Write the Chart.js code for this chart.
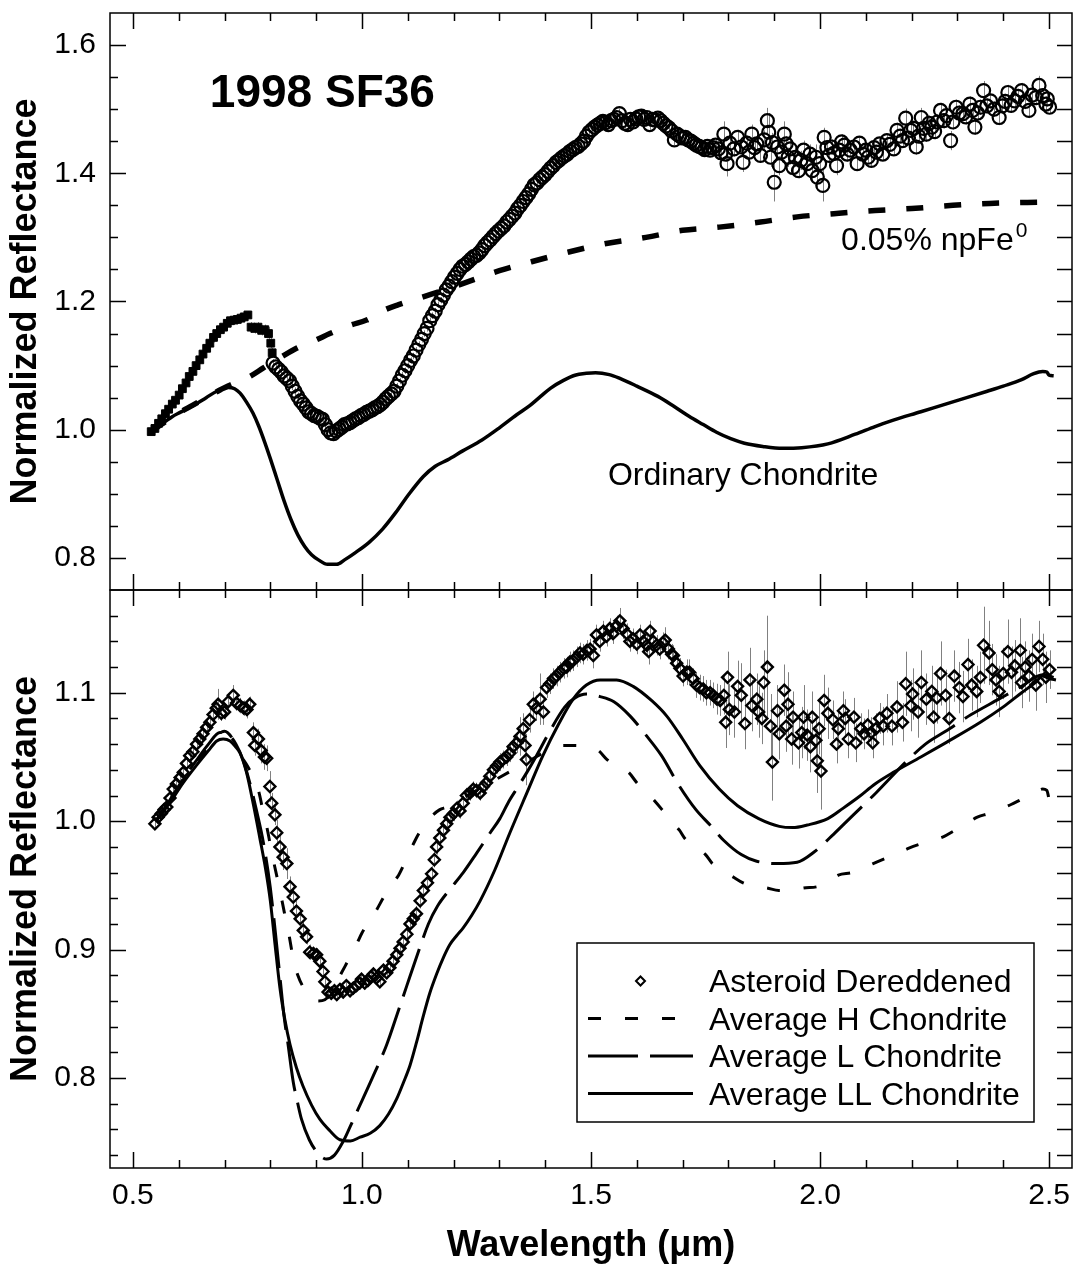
<!DOCTYPE html>
<html>
<head>
<meta charset="utf-8">
<title>1998 SF36 reflectance</title>
<script src="https://cdn.jsdelivr.net/npm/chart.js@4.4.1/dist/chart.umd.min.js"></script>
<style>
  body { margin: 0; background: #fff; }
  #page { position: relative; width: 1073px; height: 1264px; overflow: hidden; }
  #page canvas { position: absolute; left: 0; }
  #topChart { top: 0; }
  #bottomChart { top: 580px; }
</style>
</head>
<body>
<div id="page">
  <canvas id="topChart" width="1073" height="600"></canvas>
  <canvas id="bottomChart" width="1073" height="684"></canvas>
</div>
<script>
// axis ranges and labelled ticks
const waveRange = [0.45, 2.55];
const topReflRange = [0.75, 1.65];
const bottomReflRange = [0.73, 1.18];
const waveTickLabels = [0.5, 1.0, 1.5, 2.0, 2.5];
const topReflTickLabels = [0.8, 1.0, 1.2, 1.4, 1.6];
const bottomReflTickLabels = [0.8, 0.9, 1.0, 1.1];

// top panel asteroid spectrum, rows are [wavelength, reflectance, error]
const topVisible = [
  [0.540,0.997,0.004],[0.548,1.002,0.004],[0.556,1.010,0.004],[0.563,1.017,0.004],[0.571,1.025,0.004],
  [0.578,1.032,0.004],[0.586,1.040,0.005],[0.593,1.046,0.005],[0.601,1.054,0.005],[0.608,1.064,0.005],
  [0.616,1.073,0.005],[0.623,1.083,0.005],[0.631,1.091,0.005],[0.638,1.100,0.006],[0.646,1.109,0.006],
  [0.653,1.118,0.006],[0.661,1.127,0.006],[0.668,1.135,0.006],[0.676,1.144,0.008],[0.683,1.150,0.006],
  [0.691,1.156,0.006],[0.698,1.160,0.006],[0.706,1.166,0.006],[0.713,1.170,0.007],[0.721,1.171,0.006],
  [0.728,1.172,0.007],[0.736,1.174,0.007],[0.743,1.176,0.007],[0.751,1.179,0.006],[0.758,1.160,0.008],
  [0.766,1.158,0.008],[0.773,1.160,0.008],[0.781,1.155,0.008],[0.788,1.156,0.008],[0.796,1.150,0.010],
  [0.801,1.135,0.008],[0.804,1.120,0.008]
];
const topInfrared = [
  [0.806,1.104,0.006],[0.812,1.098,0.006],[0.818,1.094,0.006],[0.824,1.090,0.006],[0.830,1.084,0.006],
  [0.836,1.080,0.006],[0.842,1.076,0.006],[0.848,1.068,0.006],[0.854,1.060,0.006],[0.860,1.052,0.006],
  [0.866,1.045,0.006],[0.872,1.040,0.006],[0.878,1.034,0.006],[0.884,1.028,0.005],[0.890,1.025,0.005],
  [0.896,1.022,0.005],[0.902,1.021,0.005],[0.908,1.018,0.005],[0.914,1.016,0.005],[0.920,1.008,0.005],
  [0.926,1.000,0.005],[0.932,0.995,0.005],[0.938,0.994,0.005],[0.944,0.998,0.005],[0.950,1.001,0.005],
  [0.956,1.004,0.005],[0.962,1.008,0.005],[0.968,1.009,0.005],[0.974,1.011,0.005],[0.980,1.014,0.005],
  [0.986,1.017,0.005],[0.992,1.019,0.005],[0.998,1.022,0.005],[1.004,1.024,0.005],[1.010,1.027,0.005],
  [1.016,1.029,0.005],[1.022,1.031,0.005],[1.028,1.034,0.005],[1.034,1.036,0.005],[1.040,1.039,0.005],
  [1.046,1.043,0.005],[1.052,1.048,0.005],[1.058,1.052,0.005],[1.064,1.056,0.005],[1.070,1.060,0.005],
  [1.076,1.068,0.005],[1.082,1.076,0.005],[1.088,1.085,0.005],[1.094,1.092,0.005],[1.100,1.100,0.005],
  [1.106,1.108,0.005],[1.112,1.115,0.005],[1.118,1.124,0.005],[1.124,1.133,0.005],[1.130,1.141,0.005],
  [1.136,1.150,0.005],[1.142,1.158,0.005],[1.148,1.170,0.005],[1.154,1.178,0.005],[1.160,1.185,0.005],
  [1.166,1.195,0.005],[1.172,1.202,0.005],[1.178,1.210,0.005],[1.184,1.218,0.005],[1.190,1.224,0.005],
  [1.196,1.231,0.005],[1.202,1.238,0.005],[1.208,1.244,0.005],[1.214,1.250,0.005],[1.220,1.255,0.005],
  [1.226,1.258,0.005],[1.232,1.262,0.005],[1.238,1.266,0.005],[1.244,1.270,0.005],[1.250,1.272,0.005],
  [1.256,1.276,0.005],[1.262,1.281,0.005],[1.268,1.287,0.005],[1.274,1.292,0.005],[1.280,1.296,0.005],
  [1.286,1.301,0.005],[1.292,1.306,0.005],[1.298,1.310,0.005],[1.304,1.314,0.006],[1.310,1.318,0.006],
  [1.316,1.324,0.006],[1.322,1.328,0.006],[1.328,1.333,0.006],[1.334,1.338,0.006],[1.340,1.345,0.006],
  [1.346,1.350,0.006],[1.352,1.356,0.006],[1.358,1.362,0.006],[1.364,1.368,0.006],[1.370,1.375,0.006],
  [1.376,1.382,0.006],[1.382,1.385,0.007],[1.388,1.390,0.007],[1.394,1.394,0.007],[1.400,1.398,0.007],
  [1.406,1.403,0.007],[1.412,1.408,0.007],[1.418,1.412,0.007],[1.424,1.417,0.007],[1.430,1.420,0.007],
  [1.436,1.424,0.007],[1.442,1.427,0.007],[1.448,1.430,0.007],[1.454,1.434,0.007],[1.460,1.437,0.007],
  [1.466,1.440,0.007],[1.472,1.442,0.007],[1.478,1.446,0.007],[1.484,1.450,0.007],[1.490,1.458,0.007],
  [1.496,1.464,0.007],[1.502,1.468,0.007],[1.508,1.472,0.007],[1.514,1.475,0.007],[1.520,1.478,0.007],
  [1.526,1.481,0.007],[1.532,1.479,0.007],[1.538,1.476,0.007],[1.544,1.482,0.007],[1.550,1.484,0.007],
  [1.556,1.487,0.007],[1.562,1.493,0.008],[1.568,1.482,0.008],[1.574,1.478,0.008],[1.580,1.476,0.008],
  [1.586,1.484,0.008],[1.592,1.480,0.008],[1.598,1.485,0.008],[1.604,1.488,0.008],[1.610,1.489,0.008],
  [1.616,1.484,0.008],[1.622,1.487,0.008],[1.628,1.476,0.008],[1.634,1.484,0.008],[1.640,1.483,0.008],
  [1.646,1.486,0.008],[1.652,1.482,0.008],[1.658,1.478,0.008],[1.664,1.474,0.008],[1.670,1.471,0.008],
  [1.676,1.466,0.008],[1.682,1.452,0.008],[1.688,1.461,0.008],[1.694,1.458,0.008],[1.700,1.455,0.008],
  [1.706,1.456,0.008],[1.712,1.452,0.008],[1.718,1.450,0.008],[1.724,1.447,0.008],[1.730,1.444,0.008],
  [1.736,1.442,0.008],[1.742,1.440,0.008],[1.748,1.437,0.008],[1.754,1.442,0.008],[1.760,1.436,0.008],
  [1.766,1.440,0.009],[1.772,1.444,0.009],[1.778,1.438,0.009],[1.784,1.432,0.010],
  [1.790,1.461,0.020],[1.794,1.430,0.012],[1.797,1.415,0.020],[1.803,1.447,0.012],[1.812,1.438,0.012],
  [1.820,1.456,0.012],[1.828,1.441,0.012],[1.832,1.417,0.015],[1.840,1.447,0.012],[1.845,1.433,0.012],
  [1.851,1.461,0.015],[1.857,1.440,0.012],[1.862,1.446,0.012],[1.870,1.428,0.012],[1.878,1.452,0.015],
  [1.885,1.482,0.020],[1.888,1.464,0.030],[1.892,1.425,0.015],[1.896,1.448,0.015],[1.900,1.386,0.030],
  [1.907,1.441,0.015],[1.911,1.412,0.015],[1.916,1.433,0.015],[1.922,1.461,0.020],[1.926,1.446,0.012],
  [1.930,1.425,0.015],[1.935,1.438,0.015],[1.941,1.409,0.012],[1.946,1.425,0.015],[1.953,1.404,0.012],
  [1.958,1.420,0.015],[1.964,1.436,0.015],[1.972,1.415,0.012],[1.978,1.430,0.015],[1.983,1.404,0.015],
  [1.991,1.425,0.020],[1.994,1.394,0.020],[1.999,1.415,0.015],[2.006,1.381,0.025],[2.009,1.456,0.015],
  [2.015,1.440,0.012],[2.020,1.428,0.012],[2.025,1.441,0.012],[2.030,1.431,0.012],[2.036,1.412,0.015],
  [2.042,1.436,0.012],[2.047,1.449,0.012],[2.053,1.444,0.012],[2.059,1.430,0.012],[2.066,1.436,0.010],
  [2.074,1.441,0.010],[2.081,1.415,0.010],[2.086,1.447,0.010],[2.093,1.430,0.010],[2.100,1.436,0.010],
  [2.105,1.425,0.010],[2.112,1.420,0.010],[2.118,1.440,0.010],[2.123,1.433,0.010],[2.130,1.446,0.010],
  [2.137,1.430,0.010],[2.146,1.451,0.010],[2.152,1.445,0.010],[2.161,1.438,0.010],[2.168,1.467,0.012],
  [2.175,1.458,0.010],[2.180,1.451,0.010],[2.187,1.486,0.015],[2.193,1.455,0.010],[2.198,1.467,0.012],
  [2.204,1.470,0.012],[2.210,1.441,0.012],[2.215,1.458,0.012],[2.221,1.487,0.015],[2.226,1.470,0.012],
  [2.232,1.461,0.012],[2.238,1.478,0.012],[2.244,1.472,0.012],[2.250,1.465,0.012],[2.256,1.480,0.012],
  [2.263,1.498,0.012],[2.270,1.482,0.012],[2.276,1.490,0.012],[2.285,1.451,0.015],[2.290,1.480,0.012],
  [2.297,1.503,0.012],[2.304,1.494,0.012],[2.312,1.493,0.012],[2.318,1.488,0.012],[2.327,1.508,0.012],
  [2.333,1.498,0.012],[2.338,1.472,0.012],[2.344,1.494,0.012],[2.350,1.503,0.012],[2.357,1.529,0.015],
  [2.364,1.505,0.012],[2.372,1.513,0.012],[2.380,1.500,0.012],[2.391,1.487,0.012],[2.398,1.505,0.012],
  [2.404,1.512,0.012],[2.410,1.526,0.012],[2.417,1.506,0.012],[2.425,1.513,0.012],[2.432,1.520,0.012],
  [2.440,1.529,0.012],[2.448,1.512,0.012],[2.456,1.498,0.012],[2.463,1.522,0.012],[2.471,1.518,0.012],
  [2.478,1.537,0.015],[2.486,1.521,0.012],[2.493,1.508,0.012],[2.496,1.516,0.012],[2.501,1.503,0.010]
];

// top panel model curves, rows are [wavelength, reflectance]
const ordinaryChondrite = [
  [0.54,0.996],[0.565,1.010],[0.585,1.020],[0.603,1.027],[0.63,1.037],[0.66,1.050],[0.683,1.060],
  [0.708,1.066],[0.722,1.064],[0.734,1.057],[0.748,1.043],[0.762,1.026],[0.775,1.005],[0.788,0.980],
  [0.80,0.955],[0.815,0.922],[0.83,0.889],[0.845,0.860],[0.86,0.836],[0.875,0.818],[0.89,0.805],
  [0.905,0.797],[0.925,0.790],[0.945,0.790],[0.962,0.797],[0.985,0.808],[1.015,0.824],[1.045,0.845],
  [1.074,0.871],[1.10,0.897],[1.134,0.927],[1.16,0.943],[1.187,0.953],[1.22,0.967],[1.262,0.984],
  [1.30,1.003],[1.337,1.023],[1.367,1.038],[1.39,1.052],[1.412,1.065],[1.44,1.077],[1.465,1.085],
  [1.49,1.088],[1.51,1.089],[1.54,1.086],[1.563,1.080],[1.60,1.068],[1.646,1.052],[1.68,1.037],
  [1.714,1.021],[1.745,1.008],[1.774,0.996],[1.805,0.986],[1.835,0.979],[1.875,0.974],[1.918,0.971],
  [1.96,0.972],[2.017,0.978],[2.077,0.993],[2.12,1.005],[2.16,1.015],[2.22,1.028],[2.274,1.040],
  [2.32,1.050],[2.365,1.060],[2.40,1.068],[2.44,1.078],[2.465,1.087],[2.486,1.091],[2.495,1.090],
  [2.50,1.085],[2.51,1.084]
];
const npFeModel = [
  [0.54,0.997],[0.57,1.012],[0.60,1.026],[0.63,1.038],[0.66,1.050],[0.69,1.062],[0.72,1.072],
  [0.755,1.083],[0.784,1.096],[0.825,1.114],[0.857,1.127],[0.90,1.140],[0.93,1.150],[0.975,1.163],
  [1.01,1.171],[1.05,1.187],[1.08,1.195],[1.15,1.211],[1.22,1.228],[1.30,1.248],[1.37,1.262],
  [1.45,1.277],[1.53,1.290],[1.62,1.300],[1.70,1.311],[1.78,1.316],[1.87,1.324],[1.95,1.332],
  [2.03,1.337],[2.12,1.342],[2.20,1.345],[2.29,1.350],[2.37,1.353],[2.49,1.355]
];

// bottom panel dereddened asteroid, rows are [wavelength, reflectance, error]
const asteroidDereddened = [
  [0.548,0.998,0.004],[0.555,1.003,0.004],[0.562,1.006,0.004],[0.568,1.009,0.004],[0.574,1.011,0.004],
  [0.581,1.018,0.004],[0.588,1.025,0.004],[0.595,1.029,0.004],[0.603,1.034,0.005],[0.610,1.038,0.005],
  [0.617,1.045,0.005],[0.624,1.051,0.005],[0.631,1.054,0.005],[0.639,1.060,0.005],[0.646,1.064,0.005],
  [0.653,1.068,0.006],[0.661,1.073,0.006],[0.668,1.077,0.006],[0.675,1.083,0.006],[0.682,1.088,0.006],
  [0.686,1.091,0.012],[0.693,1.084,0.006],[0.700,1.085,0.006],[0.708,1.093,0.006],[0.719,1.098,0.008],
  [0.726,1.092,0.006],[0.734,1.090,0.006],[0.742,1.088,0.006],[0.749,1.087,0.007],[0.755,1.091,0.006],
  [0.763,1.069,0.008],[0.766,1.059,0.008],[0.774,1.064,0.008],[0.780,1.055,0.010],[0.787,1.050,0.010],
  [0.792,1.049,0.010],[0.799,1.027,0.012],[0.803,1.014,0.008],[0.810,1.005,0.008],[0.814,0.991,0.010],
  [0.821,0.980,0.010],[0.828,0.972,0.010],[0.836,0.967,0.012],[0.843,0.949,0.008],[0.850,0.941,0.008],
  [0.857,0.930,0.008],[0.865,0.924,0.008],[0.872,0.915,0.008],[0.879,0.910,0.006],[0.886,0.898,0.006],
  [0.894,0.897,0.005],[0.901,0.896,0.005],[0.908,0.891,0.005],[0.915,0.883,0.005],[0.919,0.875,0.005],
  [0.926,0.867,0.005],[0.933,0.866,0.005],[0.940,0.868,0.005],[0.945,0.865,0.005],[0.952,0.869,0.005],
  [0.959,0.867,0.005],[0.966,0.872,0.005],[0.974,0.868,0.005],[0.981,0.870,0.005],[0.988,0.872,0.005],
  [0.995,0.874,0.005],[0.999,0.877,0.005],[1.006,0.874,0.005],[1.013,0.876,0.005],[1.020,0.879,0.005],
  [1.025,0.881,0.005],[1.032,0.878,0.005],[1.039,0.875,0.005],[1.047,0.884,0.005],[1.054,0.882,0.005],
  [1.061,0.886,0.005],[1.068,0.891,0.005],[1.076,0.896,0.005],[1.083,0.901,0.005],[1.090,0.906,0.005],
  [1.098,0.912,0.005],[1.105,0.920,0.005],[1.112,0.924,0.005],[1.119,0.928,0.006],[1.127,0.938,0.006],
  [1.134,0.946,0.006],[1.143,0.952,0.006],[1.152,0.959,0.006],[1.158,0.970,0.006],[1.163,0.980,0.006],
  [1.170,0.987,0.006],[1.178,0.993,0.006],[1.185,0.998,0.006],[1.192,1.003,0.006],[1.200,1.006,0.006],
  [1.207,1.010,0.006],[1.214,1.008,0.006],[1.221,1.014,0.006],[1.228,1.020,0.006],[1.236,1.022,0.006],
  [1.243,1.025,0.006],[1.250,1.024,0.006],[1.258,1.022,0.006],[1.265,1.027,0.006],[1.272,1.030,0.006],
  [1.279,1.035,0.006],[1.287,1.040,0.006],[1.294,1.043,0.006],[1.301,1.046,0.007],[1.308,1.048,0.007],
  [1.316,1.050,0.007],[1.323,1.053,0.007],[1.330,1.058,0.007],[1.338,1.061,0.008],[1.345,1.066,0.015],
  [1.352,1.072,0.012],[1.356,1.059,0.012],[1.359,1.048,0.020],[1.366,1.079,0.010],[1.374,1.091,0.010],
  [1.381,1.088,0.010],[1.389,1.095,0.020],[1.396,1.085,0.010],[1.403,1.104,0.008],[1.410,1.107,0.008],
  [1.418,1.111,0.008],[1.425,1.113,0.008],[1.432,1.116,0.008],[1.440,1.119,0.008],[1.447,1.120,0.008],
  [1.454,1.124,0.008],[1.461,1.125,0.008],[1.469,1.128,0.008],[1.476,1.131,0.008],[1.483,1.130,0.008],
  [1.491,1.133,0.008],[1.498,1.134,0.008],[1.505,1.129,0.010],[1.512,1.145,0.008],[1.519,1.140,0.008],
  [1.527,1.148,0.008],[1.534,1.144,0.008],[1.541,1.150,0.008],[1.548,1.146,0.008],[1.556,1.152,0.008],
  [1.563,1.156,0.010],[1.570,1.150,0.008],[1.578,1.146,0.008],[1.585,1.140,0.008],[1.592,1.142,0.008],
  [1.600,1.138,0.008],[1.607,1.145,0.008],[1.614,1.140,0.008],[1.622,1.137,0.008],[1.626,1.132,0.010],
  [1.629,1.148,0.008],[1.636,1.140,0.008],[1.643,1.137,0.008],[1.650,1.134,0.008],[1.657,1.139,0.008],
  [1.662,1.141,0.010],[1.669,1.134,0.008],[1.676,1.130,0.008],[1.680,1.129,0.008],[1.687,1.123,0.008],
  [1.694,1.119,0.008],[1.701,1.113,0.008],[1.709,1.116,0.010],[1.715,1.116,0.010],[1.723,1.111,0.008],
  [1.730,1.106,0.010],[1.737,1.104,0.010],[1.745,1.103,0.010],[1.752,1.100,0.010],[1.760,1.100,0.010],
  [1.767,1.098,0.010],[1.775,1.095,0.012],[1.782,1.094,0.012],[1.790,1.098,0.015],[1.794,1.077,0.020],
  [1.798,1.112,0.020],[1.802,1.087,0.020],[1.813,1.085,0.020],[1.820,1.105,0.020],[1.828,1.098,0.025],
  [1.836,1.076,0.020],[1.847,1.110,0.025],[1.851,1.090,0.020],[1.862,1.095,0.020],[1.866,1.085,0.020],
  [1.873,1.080,0.020],[1.877,1.108,0.025],[1.885,1.120,0.040],[1.892,1.074,0.025],[1.896,1.046,0.030],
  [1.907,1.086,0.020],[1.911,1.068,0.020],[1.922,1.102,0.020],[1.926,1.074,0.020],[1.930,1.091,0.025],
  [1.938,1.064,0.020],[1.941,1.081,0.020],[1.953,1.061,0.020],[1.960,1.069,0.020],[1.964,1.081,0.025],
  [1.972,1.067,0.020],[1.979,1.058,0.020],[1.983,1.081,0.020],[1.991,1.063,0.020],[1.994,1.047,0.025],
  [1.998,1.072,0.020],[2.002,1.039,0.030],[2.009,1.094,0.020],[2.017,1.084,0.020],[2.028,1.079,0.015],
  [2.036,1.060,0.015],[2.040,1.072,0.015],[2.051,1.086,0.015],[2.055,1.080,0.015],[2.062,1.064,0.015],
  [2.074,1.081,0.015],[2.078,1.061,0.015],[2.089,1.072,0.012],[2.096,1.068,0.012],[2.104,1.075,0.012],
  [2.112,1.069,0.012],[2.115,1.061,0.012],[2.122,1.072,0.012],[2.130,1.080,0.012],[2.138,1.074,0.015],
  [2.146,1.084,0.015],[2.157,1.074,0.015],[2.168,1.089,0.020],[2.180,1.077,0.015],[2.187,1.107,0.025],
  [2.198,1.090,0.020],[2.202,1.099,0.020],[2.214,1.085,0.020],[2.221,1.108,0.025],[2.232,1.095,0.020],
  [2.244,1.101,0.020],[2.248,1.081,0.020],[2.255,1.096,0.020],[2.263,1.115,0.025],[2.274,1.098,0.020],
  [2.282,1.080,0.020],[2.293,1.113,0.020],[2.304,1.104,0.020],[2.312,1.097,0.020],[2.323,1.122,0.020],
  [2.331,1.106,0.020],[2.342,1.101,0.020],[2.350,1.112,0.020],[2.357,1.137,0.030],[2.369,1.131,0.025],
  [2.376,1.118,0.020],[2.384,1.110,0.020],[2.391,1.101,0.020],[2.400,1.115,0.020],[2.410,1.132,0.025],
  [2.418,1.116,0.020],[2.425,1.121,0.020],[2.437,1.133,0.025],[2.440,1.108,0.020],[2.448,1.120,0.020],
  [2.456,1.113,0.020],[2.463,1.126,0.020],[2.471,1.106,0.020],[2.478,1.136,0.020],[2.486,1.126,0.020],
  [2.493,1.112,0.020],[2.501,1.118,0.015]
];

// bottom panel meteorite averages, rows are [wavelength, reflectance]
const averageH = [
  [0.55,1.000],[0.58,1.016],[0.61,1.032],[0.64,1.046],[0.665,1.058],[0.685,1.067],[0.70,1.070],
  [0.718,1.064],[0.734,1.052],[0.75,1.043],[0.763,1.034],[0.774,1.024],[0.784,1.008],[0.792,0.996],
  [0.803,0.976],[0.81,0.964],[0.821,0.946],[0.83,0.930],[0.84,0.913],[0.85,0.893],[0.86,0.880],
  [0.875,0.869],[0.893,0.861],[0.905,0.860],[0.919,0.861],[0.935,0.868],[0.948,0.877],[0.963,0.887],
  [0.988,0.904],[1.0,0.913],[1.032,0.931],[1.046,0.940],[1.065,0.951],[1.08,0.958],[1.10,0.973],
  [1.116,0.985],[1.127,0.992],[1.15,1.003],[1.17,1.009],[1.185,1.011],[1.22,1.018],[1.27,1.028],
  [1.32,1.038],[1.37,1.048],[1.41,1.056],[1.434,1.059],[1.466,1.059],[1.49,1.058],[1.516,1.055],
  [1.535,1.048],[1.56,1.042],[1.582,1.038],[1.60,1.030],[1.636,1.017],[1.655,1.009],[1.675,1.000],
  [1.693,0.993],[1.704,0.987],[1.75,0.974],[1.765,0.967],[1.79,0.961],[1.813,0.956],[1.832,0.952],
  [1.86,0.949],[1.884,0.948],[1.91,0.946],[1.94,0.946],[1.964,0.948],[1.994,0.949],[2.02,0.953],
  [2.04,0.958],[2.07,0.960],[2.09,0.963],[2.116,0.967],[2.142,0.971],[2.17,0.975],[2.194,0.979],
  [2.217,0.982],[2.245,0.985],[2.27,0.988],[2.29,0.992],[2.32,0.998],[2.342,1.003],[2.368,1.006],
  [2.39,1.009],[2.417,1.013],[2.44,1.017],[2.465,1.021],[2.486,1.025],[2.495,1.024],[2.50,1.017]
];
const averageL = [
  [0.55,1.000],[0.58,1.016],[0.61,1.033],[0.64,1.048],[0.665,1.060],[0.69,1.069],[0.71,1.067],
  [0.725,1.060],[0.74,1.048],[0.755,1.030],[0.77,1.008],[0.785,0.983],[0.80,0.948],[0.812,0.910],
  [0.822,0.875],[0.83,0.848],[0.838,0.828],[0.85,0.797],[0.86,0.780],[0.868,0.768],[0.885,0.752],
  [0.905,0.741],[0.923,0.737],[0.94,0.740],[0.958,0.750],[0.974,0.762],[0.988,0.773],[1.02,0.798],
  [1.054,0.826],[1.08,0.853],[1.098,0.872],[1.12,0.895],[1.145,0.920],[1.165,0.934],[1.192,0.947],
  [1.221,0.960],[1.25,0.975],[1.28,0.991],[1.301,1.002],[1.32,1.015],[1.341,1.027],[1.36,1.038],
  [1.381,1.051],[1.41,1.070],[1.443,1.089],[1.465,1.096],[1.49,1.099],[1.52,1.097],[1.55,1.093],
  [1.585,1.082],[1.62,1.067],[1.654,1.051],[1.69,1.029],[1.729,1.009],[1.76,0.997],[1.79,0.985],
  [1.828,0.974],[1.86,0.969],[1.907,0.967],[1.95,0.968],[1.987,0.976],[2.03,0.990],[2.07,1.004],
  [2.122,1.022],[2.187,1.046],[2.23,1.060],[2.274,1.070],[2.33,1.083],[2.39,1.095],[2.44,1.105],
  [2.486,1.114],[2.51,1.112]
];
const averageLL = [
  [0.55,1.000],[0.58,1.014],[0.61,1.030],[0.64,1.044],[0.665,1.055],[0.683,1.0625],[0.697,1.064],
  [0.712,1.0625],[0.724,1.058],[0.734,1.053],[0.748,1.038],[0.763,1.013],[0.777,0.987],[0.79,0.962],
  [0.80,0.938],[0.81,0.905],[0.821,0.870],[0.832,0.845],[0.843,0.826],[0.857,0.808],[0.871,0.794],
  [0.89,0.779],[0.908,0.768],[0.93,0.759],[0.952,0.752],[0.975,0.751],[0.996,0.754],[1.018,0.757],
  [1.039,0.763],[1.058,0.772],[1.076,0.784],[1.09,0.796],[1.105,0.810],[1.12,0.829],[1.133,0.847],
  [1.148,0.866],[1.163,0.881],[1.178,0.894],[1.192,0.904],[1.207,0.911],[1.221,0.917],[1.24,0.927],
  [1.258,0.938],[1.29,0.962],[1.323,0.991],[1.36,1.022],[1.395,1.051],[1.43,1.076],[1.461,1.095],
  [1.49,1.106],[1.52,1.110],[1.556,1.110],[1.592,1.105],[1.632,1.094],[1.665,1.082],[1.70,1.064],
  [1.738,1.043],[1.78,1.025],[1.82,1.012],[1.866,1.002],[1.911,0.996],[1.94,0.995],[1.972,0.997],
  [2.017,1.002],[2.05,1.010],[2.085,1.019],[2.12,1.029],[2.16,1.038],[2.22,1.050],[2.274,1.061],
  [2.35,1.077],[2.40,1.089],[2.44,1.100],[2.47,1.108],[2.486,1.113],[2.50,1.111],[2.515,1.110]
];

const FONT = "'Liberation Sans', Arial, Helvetica, sans-serif";
Chart.defaults.font.family = FONT;
Chart.defaults.color = '#000';

const toPoints = rows => rows.map(r => ({ x: r[0], y: r[1] }));
const toErrors = rows => rows.map(r => r[2]);

// vertical error bars, drawn under the symbols
const errorBars = {
  id: 'errorBars',
  beforeDatasetsDraw(chart) {
    const { ctx, chartArea: a } = chart;
    const y = chart.scales.y;
    ctx.save();
    ctx.beginPath();
    ctx.rect(a.left, a.top, a.right - a.left, a.bottom - a.top);
    ctx.clip();
    ctx.strokeStyle = '#808080';
    ctx.lineWidth = 1;
    ctx.beginPath();
    chart.data.datasets.forEach((ds, i) => {
      if (!ds.errors) return;
      chart.getDatasetMeta(i).data.forEach((pt, j) => {
        const v = ds.data[j].y, e = ds.errors[j];
        const px = Math.round(pt.x) + 0.5;
        ctx.moveTo(px, y.getPixelForValue(v - e));
        ctx.lineTo(px, y.getPixelForValue(v + e));
      });
    });
    ctx.stroke();
    ctx.restore();
  }
};

// box frame with inward ticks on all four sides
const frameTicks = {
  id: 'frameTicks',
  afterDatasetsDraw(chart, args, opts) {
    const { ctx, chartArea: a } = chart;
    const { x, y } = chart.scales;
    ctx.save();
    ctx.strokeStyle = '#000';
    ctx.lineWidth = 1.5;
    ctx.strokeRect(a.left, a.top, a.right - a.left, a.bottom - a.top);
    ctx.beginPath();
    for (let i = 0; i <= 20; i++) {
      const px = Math.round(x.getPixelForValue(0.5 + i * 0.1)) + 0.5;
      const len = i % 5 === 0 ? 16 : 8;
      ctx.moveTo(px, a.top); ctx.lineTo(px, a.top + len);
      ctx.moveTo(px, a.bottom); ctx.lineTo(px, a.bottom - len);
    }
    for (let i = 0; ; i++) {
      const v = opts.from + i * opts.step;
      if (v > opts.to + 1e-9) break;
      const py = Math.round(y.getPixelForValue(v)) + 0.5;
      const major = opts.major.some(m => Math.abs(m - v) < 1e-6);
      ctx.moveTo(a.left, py); ctx.lineTo(a.left + (major ? 16 : 8), py);
      ctx.moveTo(a.right, py); ctx.lineTo(a.right - 15, py);
    }
    ctx.stroke();
    ctx.restore();
  }
};

// free text labels placed at data coordinates
const notes = {
  id: 'notes',
  afterDatasetsDraw(chart, args, opts) {
    const { ctx } = chart;
    const { x, y } = chart.scales;
    ctx.save();
    ctx.fillStyle = '#000';
    ctx.textBaseline = 'alphabetic';
    ctx.textAlign = 'left';
    (opts.items || []).forEach(n => {
      const px = x.getPixelForValue(n.x), py = y.getPixelForValue(n.y);
      ctx.font = n.font;
      ctx.fillText(n.text, px, py);
      if (n.sup) {
        const w = ctx.measureText(n.text).width;
        ctx.font = n.supFont;
        ctx.fillText(n.sup, px + w + 2, py - 13);
      }
    });
    ctx.restore();
  }
};

// framed legend inside the lower panel
const boxLegend = {
  id: 'boxLegend',
  afterDatasetsDraw(chart, args, opts) {
    if (!opts.display) return;
    const { ctx, chartArea: a } = chart;
    const left = a.left + opts.left, top = a.top + opts.top;
    ctx.save();
    ctx.fillStyle = '#fff';
    ctx.fillRect(left, top, opts.width, opts.height);
    ctx.strokeStyle = '#000';
    ctx.lineWidth = 1.5;
    ctx.strokeRect(left, top, opts.width, opts.height);
    ctx.font = '32px ' + FONT;
    ctx.textBaseline = 'alphabetic';
    chart.data.datasets.forEach((ds, i) => {
      const base = top + opts.firstBaseline + i * opts.rowGap;
      const mid = base - 11;
      ctx.fillStyle = '#000';
      ctx.fillText(ds.label, left + opts.textLeft, base);
      ctx.strokeStyle = '#000';
      if (ds.showLine) {
        ctx.save();
        ctx.lineWidth = ds.borderWidth;
        ctx.setLineDash(ds.borderDash || []);
        ctx.beginPath();
        ctx.moveTo(left + opts.lineFrom, mid);
        ctx.lineTo(left + opts.lineTo, mid);
        ctx.stroke();
        ctx.restore();
      } else {
        ctx.lineWidth = 2;
        ctx.fillStyle = 'rgba(0,0,0,0)';
        Chart.helpers.drawPoint(ctx, { pointStyle: ds.pointStyle, radius: 4.5, borderWidth: 2, rotation: 0 },
          left + (opts.lineFrom + opts.lineTo) / 2, mid);
      }
    });
    ctx.restore();
  }
};

// the axes keep the plot box fixed, so labels must not add layout padding
function noPadding(s) {
  s.paddingTop = 0; s.paddingBottom = 0; s.paddingLeft = 0; s.paddingRight = 0;
}

function reflAxis(range, labels, yTitle) {
  return {
    type: 'linear', min: range[0], max: range[1],
    grid: { display: false, drawTicks: false },
    border: { display: false },
    afterBuildTicks: s => { s.ticks = labels.map(v => ({ value: v })); },
    afterFit: s => { s.width = 110; noPadding(s); },
    ticks: { font: { size: 30 }, color: '#000', padding: 14, callback: v => v.toFixed(1) },
    title: { display: true, text: yTitle, color: '#000', font: { size: 36, weight: 'bold' }, padding: { top: 4, bottom: 0 } }
  };
}

new Chart(document.getElementById('topChart'), {
  type: 'scatter',
  data: {
    datasets: [
      { label: 'visible', data: toPoints(topVisible), errors: toErrors(topVisible),
        pointStyle: 'rect', pointRadius: 5.5, backgroundColor: '#000', borderColor: '#000', borderWidth: 1 },
      { label: 'infrared', data: toPoints(topInfrared), errors: toErrors(topInfrared),
        pointStyle: 'circle', pointRadius: 6.5, backgroundColor: 'rgba(0,0,0,0)', borderColor: '#000', borderWidth: 2.2 },
      { label: '0.05% npFe0', data: toPoints(npFeModel), showLine: true, pointRadius: 0,
        borderColor: '#000', borderWidth: 5.5, borderDash: [17, 21], cubicInterpolationMode: 'monotone' },
      { label: 'Ordinary Chondrite', data: toPoints(ordinaryChondrite), showLine: true, pointRadius: 0,
        borderColor: '#000', borderWidth: 3.5, cubicInterpolationMode: 'monotone' }
    ]
  },
  options: {
    responsive: false, animation: false, events: [],
    layout: { autoPadding: false, padding: { top: 13, right: 1, bottom: 10, left: 0 } },
    plugins: {
      legend: { display: false }, tooltip: { enabled: false },
      frameTicks: { from: 0.8, to: 1.6, step: 0.05, major: topReflTickLabels },
      notes: { items: [
        { text: '1998 SF36', x: 0.668, y: 1.504, font: 'bold 46px ' + FONT },
        { text: '0.05% npFe', x: 2.046, y: 1.281, font: '32px ' + FONT, sup: '0', supFont: '21px ' + FONT },
        { text: 'Ordinary Chondrite', x: 1.537, y: 0.914, font: '32px ' + FONT }
      ] }
    },
    scales: {
      x: { type: 'linear', min: waveRange[0], max: waveRange[1], display: false },
      y: reflAxis(topReflRange, topReflTickLabels, 'Normalized Reflectance')
    }
  },
  plugins: [errorBars, frameTicks, notes]
});

new Chart(document.getElementById('bottomChart'), {
  type: 'scatter',
  data: {
    datasets: [
      { label: 'Asteroid Dereddened', data: toPoints(asteroidDereddened), errors: toErrors(asteroidDereddened),
        pointStyle: 'rectRot', pointRadius: 5.5, backgroundColor: 'rgba(0,0,0,0)', borderColor: '#000', borderWidth: 2.4 },
      { label: 'Average H Chondrite', data: toPoints(averageH), showLine: true, pointRadius: 0,
        borderColor: '#000', borderWidth: 3, borderDash: [13, 24], cubicInterpolationMode: 'monotone' },
      { label: 'Average L Chondrite', data: toPoints(averageL), showLine: true, pointRadius: 0,
        borderColor: '#000', borderWidth: 3, borderDash: [50, 12], cubicInterpolationMode: 'monotone' },
      { label: 'Average LL Chondrite', data: toPoints(averageLL), showLine: true, pointRadius: 0,
        borderColor: '#000', borderWidth: 3, cubicInterpolationMode: 'monotone' }
    ]
  },
  options: {
    responsive: false, animation: false, events: [],
    layout: { autoPadding: false, padding: { top: 10, right: 1, bottom: 0, left: 0 } },
    plugins: {
      legend: { display: false }, tooltip: { enabled: false },
      frameTicks: { from: 0.74, to: 1.16, step: 0.02, major: bottomReflTickLabels },
      boxLegend: { display: true, left: 467, top: 353, width: 457, height: 179,
        firstBaseline: 49, rowGap: 37.5, textLeft: 132, lineFrom: 11, lineTo: 116 }
    },
    scales: {
      x: {
        type: 'linear', min: waveRange[0], max: waveRange[1],
        grid: { display: false, drawTicks: false }, border: { display: false },
        afterBuildTicks: s => { s.ticks = waveTickLabels.map(v => ({ value: v })); },
        afterFit: s => { s.height = 96; noPadding(s); },
        ticks: { font: { size: 30 }, color: '#000', padding: 10, autoSkip: false, maxRotation: 0,
          callback: v => v.toFixed(1) },
        title: { display: true, text: 'Wavelength (μm)', color: '#000',
          font: { size: 36, weight: 'bold', lineHeight: 1.0 }, padding: { top: 0, bottom: 0 } }
      },
      y: reflAxis(bottomReflRange, bottomReflTickLabels, 'Normalized Reflectance')
    }
  },
  plugins: [errorBars, frameTicks, boxLegend]
});
</script>
</body>
</html>
